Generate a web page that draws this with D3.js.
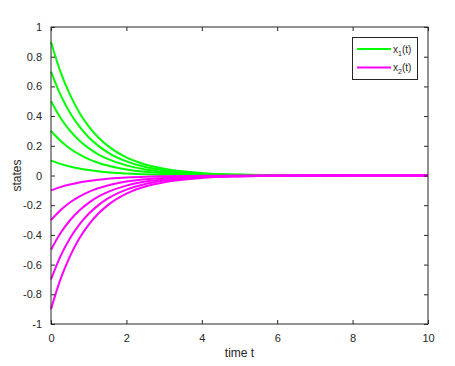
<!DOCTYPE html>
<html>
<head>
<meta charset="utf-8">
<script src="https://cdn.jsdelivr.net/npm/d3@7"></script>
<style>
  body { margin: 0; background: #fff; }
  svg { display: block; font-family: "Liberation Sans", Arial, sans-serif; }
</style>
</head>
<body>
<svg width="455" height="366"></svg>
<script>
// sample times
const times = [0, 0.25, 0.5, 0.75, 1, 1.25, 1.5, 2, 2.5, 3, 4, 5, 6, 8, 10];

// x1(t) curves, green
const x1a = [0.9, 0.70, 0.546, 0.425, 0.331, 0.258, 0.201, 0.122, 0.074, 0.045, 0.016, 0.006, 0.002, 0, 0];
const x1b = [0.7, 0.545, 0.425, 0.331, 0.258, 0.201, 0.156, 0.095, 0.057, 0.035, 0.013, 0.005, 0.002, 0, 0];
const x1c = [0.5, 0.389, 0.303, 0.236, 0.184, 0.143, 0.112, 0.068, 0.041, 0.025, 0.009, 0.003, 0.001, 0, 0];
const x1d = [0.3, 0.234, 0.182, 0.142, 0.110, 0.086, 0.067, 0.041, 0.025, 0.015, 0.005, 0.002, 0.001, 0, 0];
const x1e = [0.1, 0.078, 0.061, 0.047, 0.037, 0.029, 0.022, 0.014, 0.008, 0.005, 0.002, 0.001, 0, 0, 0];

// x2(t) curves, magenta
const x2a = [-0.1, -0.078, -0.061, -0.047, -0.037, -0.029, -0.022, -0.014, -0.008, -0.005, -0.002, -0.001, 0, 0, 0];
const x2b = [-0.3, -0.234, -0.182, -0.142, -0.110, -0.086, -0.067, -0.041, -0.025, -0.015, -0.005, -0.002, -0.001, 0, 0];
const x2c = [-0.5, -0.389, -0.303, -0.236, -0.184, -0.143, -0.112, -0.068, -0.041, -0.025, -0.009, -0.003, -0.001, 0, 0];
const x2d = [-0.7, -0.545, -0.425, -0.331, -0.258, -0.201, -0.156, -0.095, -0.057, -0.035, -0.013, -0.005, -0.002, 0, 0];
const x2e = [-0.9, -0.70, -0.546, -0.425, -0.331, -0.258, -0.201, -0.122, -0.074, -0.045, -0.016, -0.006, -0.002, 0, 0];

const xTicks = [0, 2, 4, 6, 8, 10];
const yTicks = [-1, -0.8, -0.6, -0.4, -0.2, 0, 0.2, 0.4, 0.6, 0.8, 1];

(function () {
  const green = '#00ff00', magenta = '#ff00ff', axisCol = '#262626';

  const svg = d3.select('svg');
  const pl = 51, pr = 428, pt = 27, pb = 324;

  const x = d3.scaleLinear().domain([0, 10]).range([pl, pr]);
  const y = d3.scaleLinear().domain([-1, 1]).range([pb, pt]);

  const line = d3.line()
    .x((d, i) => x(times[i]))
    .y(d => y(d))
    .curve(d3.curveMonotoneX);

  const series = [
    [x1a, green], [x1b, green], [x1c, green], [x1d, green], [x1e, green],
    [x2a, magenta], [x2b, magenta], [x2c, magenta], [x2d, magenta], [x2e, magenta]
  ];

  const g = svg.append('g');
  g.selectAll('path.curve')
    .data(series)
    .enter().append('path')
    .attr('class', 'curve')
    .attr('d', d => line(d[0]))
    .attr('fill', 'none')
    .attr('stroke', d => d[1])
    .attr('stroke-width', 2);

  // axes, ticks pointing in
  const fmt = d => String(+d.toFixed(1));
  function styleAxis(sel) {
    sel.select('.domain').remove();
    sel.selectAll('line').attr('stroke', axisCol);
    sel.selectAll('text').attr('fill', axisCol).style('font-size', '11px');
  }
  svg.append('g')
    .attr('transform', `translate(0,${pb})`)
    .call(d3.axisBottom(x).tickValues(xTicks).tickSizeInner(-4).tickSizeOuter(0).tickPadding(10).tickFormat(fmt))
    .call(styleAxis);
  svg.append('g')
    .attr('transform', `translate(0,${pt})`)
    .call(d3.axisTop(x).tickValues(xTicks).tickSizeInner(-4).tickSizeOuter(0).tickFormat(''))
    .call(styleAxis);
  svg.append('g')
    .attr('transform', `translate(${pl},0)`)
    .call(d3.axisLeft(y).tickValues(yTicks).tickSizeInner(-4).tickSizeOuter(0).tickPadding(9).tickFormat(fmt))
    .call(styleAxis);
  svg.append('g')
    .attr('transform', `translate(${pr},0)`)
    .call(d3.axisRight(y).tickValues(yTicks).tickSizeInner(-4).tickSizeOuter(0).tickFormat(''))
    .call(styleAxis);

  svg.append('rect')
    .attr('x', pl).attr('y', pt)
    .attr('width', pr - pl).attr('height', pb - pt)
    .attr('fill', 'none').attr('stroke', axisCol).attr('stroke-width', 1);

  // axis labels
  svg.append('text')
    .attr('x', (pl + pr) / 2).attr('y', 357)
    .attr('text-anchor', 'middle').attr('fill', axisCol)
    .style('font-size', '12px').text('time t');
  svg.append('text')
    .attr('transform', `translate(21,${(pt + pb) / 2}) rotate(-90)`)
    .attr('text-anchor', 'middle').attr('fill', axisCol)
    .style('font-size', '12px').text('states');

  // legend
  const leg = svg.append('g');
  leg.append('rect')
    .attr('x', 352.5).attr('y', 37.5).attr('width', 65).attr('height', 42)
    .attr('fill', '#fff').attr('stroke', axisCol).attr('stroke-width', 1);
  const legItems = [[green, '1', 49], [magenta, '2', 67.5]];
  legItems.forEach(([c, sub, ly]) => {
    leg.append('line')
      .attr('x1', 357).attr('x2', 391).attr('y1', ly).attr('y2', ly)
      .attr('stroke', c).attr('stroke-width', 2);
    const t = leg.append('text')
      .attr('x', 393).attr('y', ly + 3.5).attr('fill', axisCol)
      .style('font-size', '10px');
    t.append('tspan').text('x');
    t.append('tspan').attr('dy', 3).style('font-size', '7px').text(sub);
    t.append('tspan').attr('dy', -3).text('(t)');
  });
}());
</script>
</body>
</html>
